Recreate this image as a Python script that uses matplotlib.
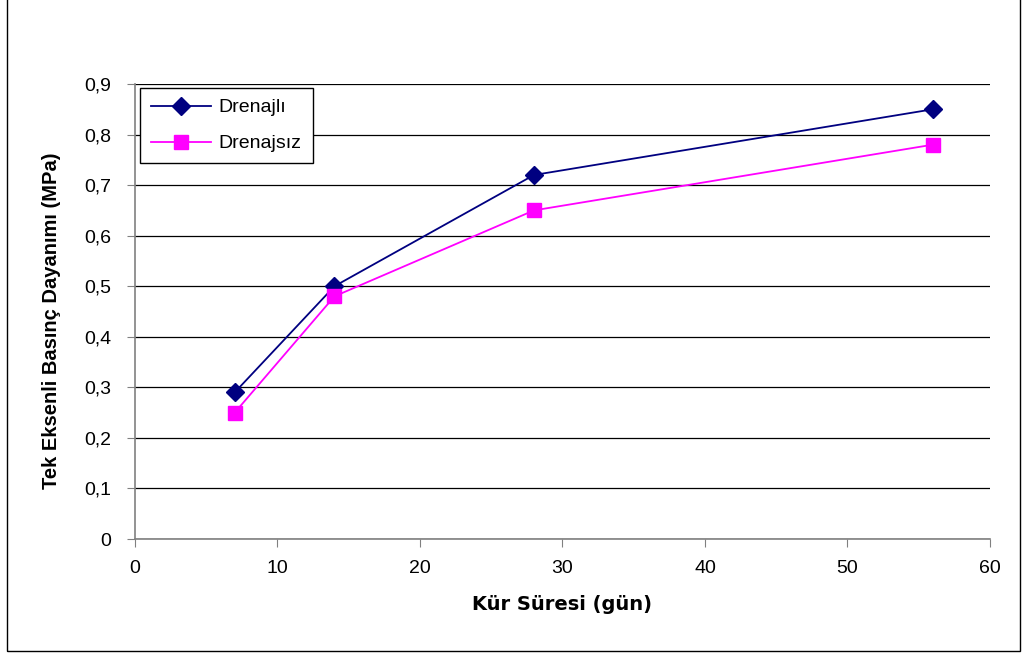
import matplotlib
matplotlib.use("Agg")
import matplotlib.pyplot as plt
from matplotlib.patches import Rectangle
from matplotlib.ticker import FuncFormatter

plt.rcParams['font.family'] = ['Liberation Sans', 'DejaVu Sans']

# data
days = [7, 14, 28, 56]
drenajli = [0.29, 0.50, 0.72, 0.85]
drenajsiz = [0.25, 0.48, 0.65, 0.78]

fig = plt.figure(figsize=(10.24, 6.54), dpi=100)
ax = fig.add_axes([0.1318, 0.1758, 0.835, 0.6958])

# outer frame around the whole chart
fig.patches.append(Rectangle((0.007, 0.005), 0.989, 1.2, transform=fig.transFigure,
                             fill=False, edgecolor='black', linewidth=1.0))

ax.plot(days, drenajli, color='#000080', marker='D', markersize=9.5, linewidth=1.3,
        label='Drenajlı', zorder=3)
ax.plot(days, drenajsiz, color='#FF00FF', marker='s', markersize=9.5, linewidth=1.3,
        label='Drenajsız', zorder=3)

ax.set_xlim(0, 60)
ax.set_ylim(0, 0.9)
ax.set_xticks(range(0, 61, 10))
ax.set_yticks([i / 10 for i in range(10)])
ax.yaxis.set_major_formatter(FuncFormatter(lambda v, p: '0' if v == 0 else f'{v:.1f}'.replace('.', ',')))
ax.grid(axis='y', color='black', linewidth=0.9)
ax.set_axisbelow(True)
for s in ['top', 'right']:
    ax.spines[s].set_visible(False)
for s in ['left', 'bottom']:
    ax.spines[s].set_color('#808080')
    ax.spines[s].set_linewidth(1.2)
ax.tick_params(colors='#808080', labelcolor='black', labelsize=14, length=6, direction='out')
ax.tick_params(axis='x', pad=9)
ax.tick_params(axis='y', pad=11)

ax.set_xlabel('Kür Süresi (gün)', fontsize=14, fontweight='bold', labelpad=13,
              family=['DejaVu Sans'])
ax.set_ylabel('Tek Eksenli Basınç Dayanımı (MPa)', fontsize=14.5, fontweight='bold')
ax.yaxis.set_label_coords(-0.087, 0.48)

leg = ax.legend(loc='upper left', bbox_to_anchor=(0.006, 0.991), borderaxespad=0,
                fontsize=14, frameon=True, fancybox=False, edgecolor='black', framealpha=1,
                handlelength=3.1, handletextpad=0.4, borderpad=0.55, labelspacing=0.95)
leg.get_frame().set_linewidth(1.0)

fig.savefig('out.png', dpi=100)
